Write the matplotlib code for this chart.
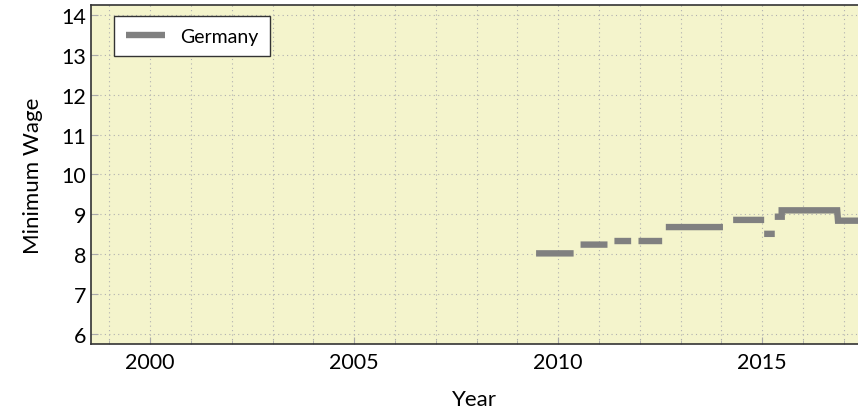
import numpy as np
import matplotlib.pyplot as plt
from matplotlib.ticker import MultipleLocator

# Mindestlohn Deutschland, Punkte der Linie, NaN = Lücke zwischen Abschnitten
years = [2009.46, 2010.38, np.nan,
         2010.55, 2011.21, np.nan,
         2011.38, 2011.79, np.nan,
         2011.97, 2012.55, np.nan,
         2012.64, 2014.04, np.nan,
         2014.29, 2015.05, np.nan,
         2015.05, 2015.31, np.nan,
         2015.31, 2015.48, 2015.48, 2016.84, 2016.86, 2017.6]
wage = [8.02, 8.02, np.nan,
        8.24, 8.24, np.nan,
        8.33, 8.33, np.nan,
        8.33, 8.33, np.nan,
        8.68, 8.68, np.nan,
        8.86, 8.86, np.nan,
        8.51, 8.51, np.nan,
        8.94, 8.94, 9.10, 9.10, 8.84, 8.84]

plt.rcParams['font.family'] = ['Lato', 'DejaVu Sans']

fig = plt.figure(figsize=(8.58, 4.10), dpi=100)
ax = fig.add_axes([0.106, 0.159, 0.894, 0.826])
ax.set_facecolor('#f4f4cc')

ax.plot(years, wage, color='#808080', linewidth=4.6, solid_capstyle='butt',
        solid_joinstyle='miter', label='Germany')

ax.set_xlim(1998.55, 2017.35)
ax.set_ylim(5.75, 14.25)
ax.xaxis.set_major_locator(MultipleLocator(5))
ax.xaxis.set_minor_locator(MultipleLocator(1))
ax.yaxis.set_major_locator(MultipleLocator(1))

ax.grid(which='both', color='#b0b0b0', linestyle=(0, (1, 3)), linewidth=0.8)
ax.tick_params(which='both', direction='in', color='#aaaaaa', labelsize=15.5)
ax.tick_params(which='major', length=5)
ax.tick_params(which='minor', length=3)
ax.tick_params(axis='x', pad=6)

ax.spines['right'].set_visible(False)
for s in ['left', 'bottom', 'top']:
    ax.spines[s].set_color('#333333')
    ax.spines[s].set_linewidth(1.2)

ax.set_xlabel('Year', fontsize=16, labelpad=12)
ax.set_ylabel('Minimum Wage', fontsize=16, labelpad=13)

leg = ax.legend(loc='upper left', bbox_to_anchor=(0.03, 0.968), borderaxespad=0,
                fontsize=14, fancybox=False, framealpha=1, edgecolor='#333333',
                handlelength=2.0, borderpad=0.6, handletextpad=0.8)
leg.get_frame().set_linewidth(1.0)

fig.savefig('out.png', dpi=100)
